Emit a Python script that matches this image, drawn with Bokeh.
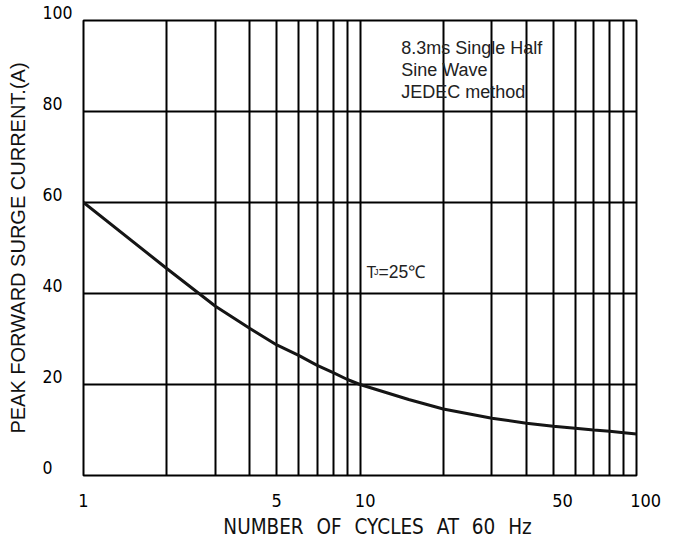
import math
from bokeh.plotting import figure
from bokeh.models import FixedTicker, Label
from bokeh.embed import file_html
from bokeh.resources import INLINE

# ---- data ----
cycles = [1, 2, 3, 4, 5, 6, 7, 8, 9, 10, 15, 20, 30, 40, 50, 60, 70, 80, 90, 100]
current = [60.0, 45.5, 37.2, 32.3, 28.7, 26.4, 24.2, 22.6, 21.1, 20.0, 16.7, 14.6,
           12.6, 11.5, 10.8, 10.4, 10.0, 9.7, 9.4, 9.1]

grid_x = [2, 3, 4, 5, 6, 7, 8, 9, 10, 20, 30, 40, 50, 60, 70, 80, 90]
grid_y = [20, 40, 60, 80]
x_tick_vals = [1, 5, 10, 50, 100]
x_tick_text = ["1", "5", "10", "50", "100"]
y_tick_vals = [0, 20, 40, 60, 80, 100]
y_tick_text = ["0", "20", "40", "60", "80", "100"]

note_lines = ["8.3ms Single Half", "Sine Wave", "JEDEC method"]
note_y = [93.9, 89.1, 84.3]
note_x = 14.1
tj_x, tj_y = 10.56, 44.7
x_title = "NUMBER OF CYCLES AT 60 Hz"
y_title = "PEAK FORWARD SURGE CURRENT.(A)"

ARIAL = "Liberation Sans"
CAD = "DejaVu Sans Condensed"
FIG_SP = "\u2007"
EN_SP = "\u2002"
THIN_SP = "\u2009"
NBSP = "\u00a0"

p = figure(width=681, height=541, x_axis_type="log", x_range=(1, 100), y_range=(0, 100),
           output_backend="svg", toolbar_location=None,
           min_border_left=83, min_border_top=20, min_border_right=45, min_border_bottom=59)
p.background_fill_color = "white"
p.border_fill_color = "white"
p.outline_line_color = "black"
p.outline_line_width = 2

p.xgrid.ticker = FixedTicker(ticks=grid_x)
p.ygrid.ticker = FixedTicker(ticks=grid_y)
p.grid.grid_line_color = "black"
p.grid.grid_line_width = 2
p.grid.grid_line_alpha = 1.0

# axes
for ax in (p.xaxis[0], p.yaxis[0]):
    ax.axis_line_color = None
    ax.major_tick_line_color = None
    ax.minor_tick_line_color = None
    ax.major_tick_out = 0
    ax.major_tick_in = 0
    ax.major_label_text_color = "black"
    ax.axis_label_text_color = "#111111"
    ax.axis_label_text_font_style = "normal"

# labels in the reference start at their tick: pad wider labels on the left
x_pad = {"1": "", "5": "", "10": FIG_SP, "50": FIG_SP + EN_SP, "100": FIG_SP + EN_SP}
xa = p.xaxis[0]
xa.ticker = FixedTicker(ticks=x_tick_vals)
xa.major_label_overrides = {v: x_pad[t] + t for v, t in zip(x_tick_vals, x_tick_text)}
xa.major_label_text_font = CAD
xa.major_label_text_font_size = "18px"
xa.major_label_standoff = 14
xa.axis_label = NBSP * 6 + x_title.replace(" ", EN_SP + THIN_SP)
xa.axis_label_text_font = CAD
xa.axis_label_text_font_size = "20.5px"
xa.axis_label_standoff = 1

ya = p.yaxis[0]
ya.ticker = FixedTicker(ticks=y_tick_vals)
# left-aligned tick labels sitting on their grid line: pad with figure spaces to the
# width of "100" and add an empty second line so the digits rise above the line
ya.major_label_overrides = {v: t + FIG_SP * (3 - len(t)) + "\n" + FIG_SP
                            for v, t in zip(y_tick_vals, y_tick_text)}
ya.major_label_text_font = CAD
ya.major_label_text_font_size = "17.5px"
ya.major_label_text_line_height = 0.75
ya.major_label_standoff = 11
ya.axis_label = y_title
ya.axis_label_text_font = ARIAL
ya.axis_label_text_font_size = "20px"
ya.axis_label_standoff = 10

p.line(cycles, current, line_color="#151515", line_width=3)

# notes
for t, yy in zip(note_lines, note_y):
    p.add_layout(Label(x=note_x, y=yy, text=t, text_align="left", text_baseline="alphabetic",
                       text_font=ARIAL, text_font_size="18px", text_color="#222222"))

p.add_layout(Label(x=tj_x, y=tj_y, text="T", text_align="left", text_baseline="alphabetic",
                   text_font=ARIAL, text_font_size="16px", text_color="#222222"))
p.add_layout(Label(x=tj_x, y=tj_y, x_offset=7.5, text="J", text_align="left",
                   text_baseline="alphabetic",
                   text_font=ARIAL, text_font_size="9px", text_color="#222222"))
p.add_layout(Label(x=tj_x, y=tj_y, x_offset=12, text="=25\u2103", text_align="left",
                   text_baseline="alphabetic",
                   text_font=ARIAL, text_font_size="17.5px", text_color="#222222"))

open("out.html", "w").write(file_html(p, INLINE))
